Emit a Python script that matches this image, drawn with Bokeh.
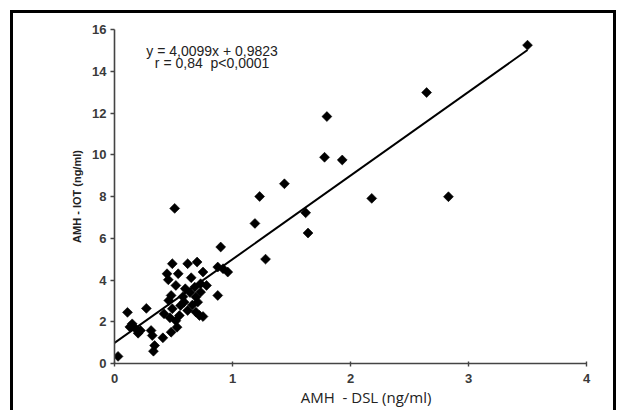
from bokeh.plotting import figure
from bokeh.models import Range1d, FixedTicker, Label
from bokeh.embed import file_html
from bokeh.resources import INLINE

# Data (AMH DSL vs AMH IOT, ng/ml)
amh_dsl = [3.50, 2.645, 1.80, 1.78, 1.93, 1.44, 1.23, 2.18, 2.83, 1.62, 1.19, 1.64, 1.28, 0.90, 0.51,
           0.49, 0.62, 0.70, 0.445, 0.54, 0.456, 0.65, 0.75, 0.875, 0.92, 0.96, 0.52, 0.60, 0.68,
           0.73, 0.78, 0.73, 0.69, 0.875, 0.705, 0.59, 0.56, 0.46, 0.48, 0.62, 0.69, 0.72, 0.75,
           0.55, 0.42, 0.47, 0.49, 0.53, 0.48, 0.11, 0.27, 0.15, 0.18, 0.22, 0.31, 0.32, 0.41,
           0.34, 0.33, 0.03, 0.13, 0.20, 0.64, 0.58, 0.66, 0.52]
amh_iot = [15.25, 12.98, 11.83, 9.88, 9.75, 8.61, 8.00, 7.91, 7.99, 7.22, 6.71, 6.25, 5.00, 5.58, 7.43,
           4.78, 4.78, 4.86, 4.30, 4.30, 4.01, 4.11, 4.38, 4.62, 4.54, 4.38, 3.74, 3.58, 3.66,
           3.82, 3.74, 3.42, 3.18, 3.26, 2.94, 2.94, 2.78, 3.02, 3.26, 2.54, 2.46, 2.30, 2.25,
           2.30, 2.38, 2.19, 2.62, 1.74, 1.50, 2.45, 2.64, 1.90, 1.66, 1.58, 1.58, 1.34, 1.23,
           0.86, 0.59, 0.34, 1.75, 1.45, 3.40, 3.20, 2.80, 2.05]

slope = 4.0099
intercept = 0.9823
fit_x = [0.0, max(amh_dsl)]
fit_y = [slope * v + intercept for v in fit_x]

x_ticks = [0, 1, 2, 3, 4]
y_ticks = [0, 2, 4, 6, 8, 10, 12, 14, 16]

eq_text = "y = 4,0099x + 0,9823"
stat_text = "r = 0,84\u00a0 p<0,0001"

p = figure(width=606, height=400, output_backend="svg", toolbar_location=None,
           x_range=Range1d(0, 4), y_range=Range1d(0, 16),
           min_border_left=101, min_border_right=33, min_border_top=16, min_border_bottom=50)
p.styles = {"margin-left": "10px", "margin-top": "10px",
            "border-top": "3px solid black", "border-left": "3px solid black",
            "border-right": "3px solid black"}
p.outline_line_color = None
p.xgrid.visible = False
p.ygrid.visible = False
p.background_fill_color = "white"
p.border_fill_color = "white"

for ax in (p.xaxis[0], p.yaxis[0]):
    ax.axis_line_color = "#444444"
    ax.axis_line_width = 1.6
    ax.major_tick_line_color = "#444444"
    ax.major_tick_line_width = 1.4
    ax.minor_tick_line_color = None
    ax.major_label_text_font = "Liberation Sans"
    ax.major_label_text_font_size = "13px"
    ax.major_label_text_font_style = "bold"
    ax.major_label_text_color = "#3a3a3a"

p.xaxis.ticker = FixedTicker(ticks=x_ticks)
p.yaxis.ticker = FixedTicker(ticks=y_ticks)
p.xaxis.major_tick_in = 2
p.xaxis.major_tick_out = 3
p.yaxis.major_tick_in = 0
p.yaxis.major_tick_out = 4
p.xaxis.major_label_standoff = 7
p.yaxis.major_label_standoff = 4

p.xaxis.axis_label = "\u00a0" * 8 + "AMH\u00a0 - DSL (ng/ml)"
p.xaxis.axis_label_text_font = "Open Sans"
p.xaxis.axis_label_text_font_size = "15px"
p.xaxis.axis_label_text_font_style = "normal"
p.xaxis.axis_label_text_color = "#222222"
p.xaxis.axis_label_standoff = 1

p.yaxis.axis_label = "AMH - IOT (ng/ml)"
p.yaxis.axis_label_text_font = "Liberation Sans"
p.yaxis.axis_label_text_font_size = "11px"
p.yaxis.axis_label_text_font_style = "bold"
p.yaxis.axis_label_text_color = "#222222"
p.yaxis.axis_label_standoff = 6

p.line(fit_x, fit_y, line_color="black", line_width=2)
p.scatter(amh_dsl, amh_iot, marker="square", size=7, angle=0.785398,
          fill_color="black", line_color="black", line_width=0.6)

p.add_layout(Label(x=0.827, y=14.97, text=eq_text, text_align="center", text_baseline="middle",
                   text_font="Liberation Sans", text_font_size="14px", text_color="#222222"))
p.add_layout(Label(x=0.827, y=14.38, text=stat_text, text_align="center", text_baseline="middle",
                   text_font="Liberation Sans", text_font_size="14px", text_color="#222222"))

open("out.html", "w").write(file_html(p, INLINE))
